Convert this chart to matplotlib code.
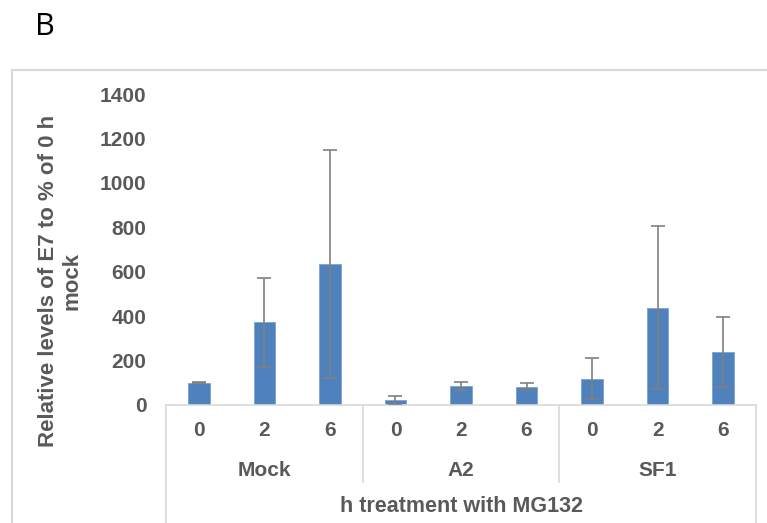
import matplotlib.pyplot as plt
import matplotlib.transforms as mtransforms
from matplotlib.lines import Line2D
from matplotlib.patches import Rectangle

plt.rcParams['font.family'] = ['Liberation Sans', 'DejaVu Sans']

# values
hours = ["0", "2", "6", "0", "2", "6", "0", "2", "6"]
groups = ["Mock", "A2", "SF1"]
levels = [100, 372, 636, 21, 87, 83, 119, 437, 239]
errors = [3, 200, 514, 18, 18, 17, 93, 367, 157]
yticks = [0, 200, 400, 600, 800, 1000, 1200, 1400]

W, H = 767, 523
fig = plt.figure(figsize=(W / 100, H / 100), dpi=100)
grey = "#595959"
light = "#d9d9d9"

# outer chart frame
fig.patches.append(Rectangle((12 / W, -0.05), 1.0, 1 - 70 / H + 0.05,
                             transform=fig.transFigure, fill=False,
                             edgecolor=light, linewidth=1.5))

fig.text(35 / W, 1 - 27 / H, "B", fontsize=22, va="center", ha="left",
         family=["Open Sans", "DejaVu Sans"], color="black")

ax = fig.add_axes([166 / W, 1 - 405 / H, 590 / W, 311 / H])
x = list(range(len(levels)))
ax.bar(x, levels, width=0.33, color="#4F81BD", edgecolor="#7AA3D6",
       linewidth=0.6, zorder=2)
ax.errorbar(x, levels, yerr=errors, fmt="none", ecolor="#808080",
            elinewidth=1.2, capsize=5, capthick=1.2, zorder=3)

ax.set_xlim(-0.5, len(levels) - 0.5)
ax.set_ylim(0, 1400)
ax.set_yticks(yticks)
ax.set_yticklabels([str(t) for t in yticks], fontsize=15, fontweight="bold",
                   color=grey)
ax.tick_params(axis="y", length=0, pad=14)
ax.set_xticks([])
for s in ["top", "right", "left"]:
    ax.spines[s].set_visible(False)
ax.spines["bottom"].set_color(light)
ax.spines["bottom"].set_linewidth(1.2)

# multi-level category axis
tr = mtransforms.blended_transform_factory(ax.transData, fig.transFigure)
for i, h in enumerate(hours):
    ax.text(i, 1 - 431 / H, h, transform=tr, ha="center", va="center",
            fontsize=15, fontweight="bold", color=grey)
for g, name in enumerate(groups):
    ax.text(g * 3 + 1, 1 - 470 / H, name, transform=tr, ha="center",
            va="center", fontsize=15, fontweight="bold", color=grey)
ax.text(4, 1 - 507 / H, "h treatment with MG132", transform=tr, ha="center",
        va="center", fontsize=15.5, fontweight="bold", color=grey)

for xs, bottom in [(-0.5, 0.0), (2.5, 1 - 482 / H), (5.5, 1 - 482 / H),
                   (8.5, 0.0)]:
    fig.add_artist(Line2D([xs, xs], [1 - 405 / H, bottom], transform=tr,
                          color=light, linewidth=1.2))

fig.text(60 / W, 1 - 281 / H, "Relative levels of E7 to % of 0 h\nmock",
         rotation=90, ha="center", va="center", multialignment="center",
         fontsize=16, fontweight="bold", color=grey, linespacing=1.15)

fig.savefig("out.png", dpi=100)
